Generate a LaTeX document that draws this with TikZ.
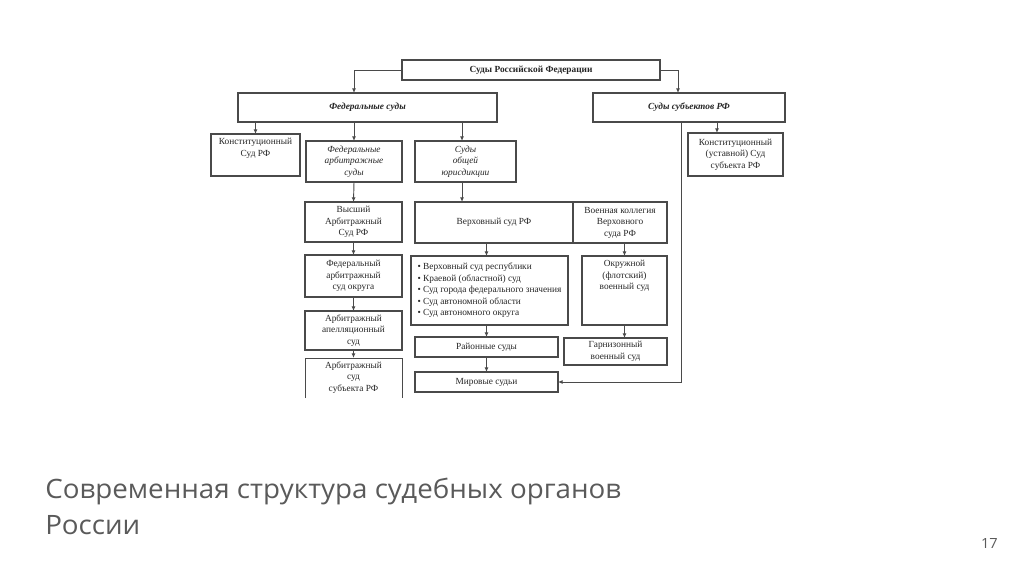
\documentclass[tikz,border=0pt]{standalone}
\usepackage{fontspec}
\setmainfont{Liberation Serif}
\newfontfamily\titlefont[FakeStretch=1.04]{Open Sans}
\usetikzlibrary{arrows.meta}
\definecolor{lc}{HTML}{4A4A4A}
\definecolor{tc}{HTML}{262626}
\definecolor{ttl}{HTML}{5A5A5A}
\begin{document}
\begin{tikzpicture}[x=0.75pt,y=-0.75pt,
  box/.style={draw=lc, line width=0.8pt, inner sep=0pt, outer sep=0pt, align=center,
    font=\fontsize{7}{8.6}\selectfont, text=tc},
  nobox/.style={inner sep=0pt, outer sep=0pt, align=center,
    font=\fontsize{7}{8.6}\selectfont, text=tc},
  sz/.style 2 args={minimum width={#1*0.75pt}, minimum height={#2*0.75pt}},
  arr/.style={draw=lc, line width=0.7pt, -{Latex[length=3.5pt,width=3pt]}},
  ln/.style={draw=lc, line width=0.7pt},
  bi/.style={font=\fontsize{7}{8.6}\selectfont\bfseries\itshape},
  it/.style={font=\fontsize{7}{8.6}\selectfont\itshape}]
\path[fill=white] (0,0) rectangle (1024,574);
\useasboundingbox (0,0) rectangle (1024,574);

% top level
\node[box, sz={258}{20}, font=\fontsize{7}{8.6}\selectfont\bfseries] (top) at (531,70) {Суды Российской Федерации};
\node[box, sz={259}{29}, bi] (fed) at (367.5,107.5) {Федеральные суды};
\node[box, sz={192}{29}, bi] (sub) at (689,107.5) {Суды субъектов РФ};

% second level
\node[box, sz={89}{42}] (ks) at (255.5,155) {};
\node[nobox, anchor=north] (kstxt) at ([yshift=-3.2pt]ks.north) {Конституционный\\Суд РФ};
\node[box, sz={96}{41}, it] (fa) at (354,161.5) {Федеральные\\арбитражные\\суды};
\node[box, sz={101}{41}, it] (oj) at (465.5,161.5) {Суды\\общей\\юрисдикции};
\node[box, sz={95}{43}] (ksub) at (735.5,154.5) {Конституционный\\(уставной) Суд\\субъекта РФ};

% arbitration column
\node[box, sz={97}{40}] (vas) at (353.5,222) {Высший\\Арбитражный\\Суд РФ};
\node[box, sz={97}{42}] (fao) at (353.5,276) {Федеральный\\арбитражный\\суд округа};
\node[box, sz={97}{39}] (aas) at (353.5,330.5) {Арбитражный\\апелляционный\\суд};
\node[nobox, sz={97}{40}] (asub) at (353.5,378) {};
\draw[ln] (asub.south west) -- (asub.north west) -- (asub.north east) -- (asub.south east);
\node[nobox, anchor=north] (asubtxt) at ([yshift=-2.6pt]asub.north) {Арбитражный\\суд\\субъекта РФ};

% general jurisdiction column
\node[box, sz={158}{41}] (vs) at (494,222.5) {Верховный суд РФ};
\node[box, sz={94}{41}] (vk) at (620,222.5) {Военная коллегия\\Верховного\\суда РФ};
\node[box, sz={157}{69}, align=left] (bul) at (489.5,290.5) {• Верховный суд республики\\• Краевой (областной) суд\\• Суд города федерального значения\\• Суд автономной области\\• Суд автономного округа};
\node[box, sz={85}{69}] (okr) at (624.5,290.5) {};
\node[nobox, anchor=north] (okrtxt) at ([yshift=-3.2pt]okr.north) {Окружной\\(флотский)\\военный суд};
\node[box, sz={143}{20}] (rai) at (486.5,347) {Районные суды};
\node[box, sz={103}{27}] (garn) at (615.5,351.5) {Гарнизонный\\военный суд};
\node[box, sz={143}{20}] (mir) at (486.5,382) {Мировые судьи};

% connectors
\draw[arr] (top.west) -| (fa.north |- fed.north);
\draw[arr] (top.east) -| ([xshift=-8.25pt]sub.north);
\draw[arr] (ks.north |- fed.south) -- (ks.north);
\draw[arr] (fa.north |- fed.south) -- (fa.north);
\draw[arr] ([xshift=-2.6pt]oj.north |- fed.south) -- ([xshift=-2.6pt]oj.north);
\draw[arr] ([xshift=-13.9pt]ksub.north |- sub.south) -- ([xshift=-13.9pt]ksub.north);
\draw[arr] ([xshift=-6pt]sub.south) |- (mir.east);

\draw[arr] (fa.south) -- (vas.north);
\draw[arr] (vas.south) -- (fao.north);
\draw[arr] (fao.south) -- (aas.north);
\draw[arr] (aas.south) -- (asub.north);

\draw[arr] ([xshift=-2.6pt]oj.south) -- ([xshift=-2.6pt]oj.south |- vs.north);
\draw[arr] (rai.north |- vs.south) -- (rai.north |- bul.north);
\draw[arr] (rai.north |- bul.south) -- (rai.north);
\draw[arr] (rai.south) -- (mir.north);

\draw[arr] (okr.north |- vk.south) -- (okr.north);
\draw[arr] (okr.south) -- (okr.south |- garn.north);

% title
\node[anchor=base west, inner sep=0pt, font=\titlefont\fontsize{20}{24}\selectfont, text=ttl] (t1) at (45,498) {Современная структура судебных органов};
\node[anchor=base west, inner sep=0pt, font=\titlefont\fontsize{20}{24}\selectfont, text=ttl] (t2) at (45,534) {России};
\node[anchor=base east, inner sep=0pt, font=\titlefont\fontsize{10.5}{12}\selectfont, text=ttl] (pg) at (998,548) {17};
\end{tikzpicture}
\end{document}
